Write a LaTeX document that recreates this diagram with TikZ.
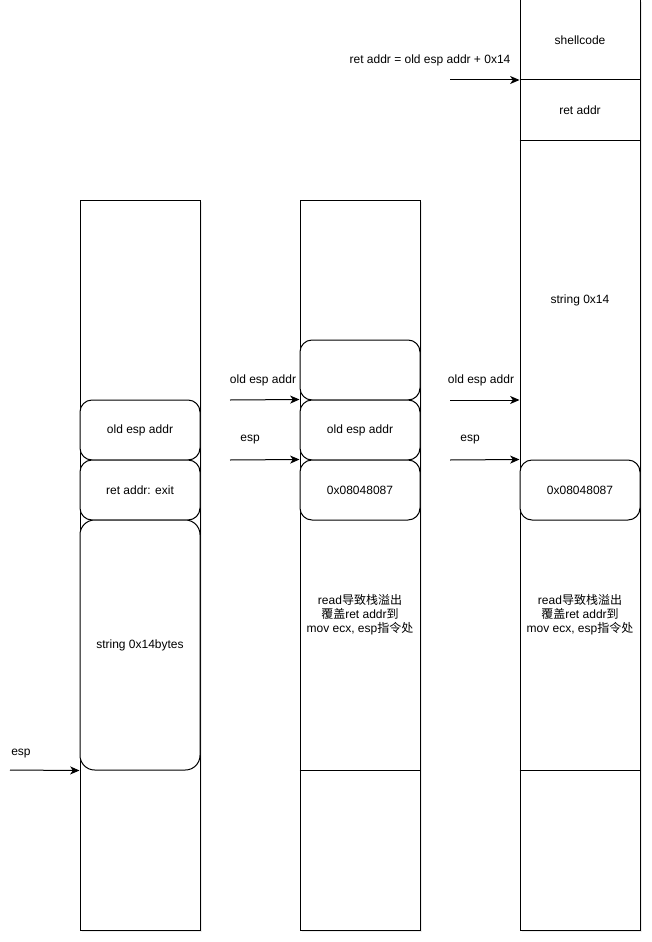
\documentclass[tikz,border=0pt]{standalone}
\usepackage{fontspec}
\setmainfont{Liberation Sans}
\newfontfamily\cjk{Noto Sans CJK SC}
\usetikzlibrary{positioning,arrows.meta,shadows}
\tikzset{
  stack/.style={draw, line width=0.75pt, fill=white, minimum width=90pt,
    drop shadow={shadow xshift=1.2pt, shadow yshift=-1.2pt, opacity=0.15}},
  cell/.style={draw, line width=0.75pt, fill=white, rounded corners=9pt,
    minimum width=90pt, minimum height=45pt},
  lbl/.style={inner sep=1pt},
  ptr/.style={-{Stealth[length=7pt,width=6pt,inset=2pt]}, line width=0.75pt}
}
\begin{document}
\begin{tikzpicture}[x=0.75pt, y=-0.75pt, font=\fontsize{9}{10.5}\selectfont]
  \useasboundingbox (0,0) rectangle (652,942);
  % three stack snapshots
  \node[stack, minimum height=547.5pt] (stackA) at (140,565) {};
  \node[stack, minimum height=547.5pt] (stackB) at (360,565) {};
  \node[stack, minimum height=697.5pt] (stackC) at (580,465) {};

  % first stack
  \node[cell] (oldA) at (140,430) {old esp addr};
  \node[cell] (retA) at (140,490) {ret addr: exit};
  \node[cell, rounded corners=11pt, minimum height=187.5pt] (strA) at (140,645) {string 0x14bytes};
  \coordinate (espA) at (10,770);
  \node[lbl] (espAlbl) at (21,754) {esp};
  \draw[ptr] (espA) -- (strA.south west);

  % second stack
  \node[cell] (topB) at (360,370) {};
  \node[cell] (oldB) at (360,430) {old esp addr};
  \node[cell] (jmpB) at (360,490) {0x08048087};
  \draw[line width=0.75pt] (stackB.west |- 0,770) -- (stackB.east |- 0,770);
  \node[align=center] (readB) at (360,615) {read{\cjk 导致栈溢出}\\{\cjk 覆盖}ret addr{\cjk 到}\\mov ecx, esp{\cjk 指令处}};
  \coordinate (oldBsrc) at (230,400);
  \coordinate (espBsrc) at (230,460);
  \node[lbl] (oldBlbl) at (263,380) {old esp addr};
  \node[lbl] (espBlbl) at (250,440) {esp};
  \draw[ptr] (oldBsrc) -- (oldB.north west);
  \draw[ptr] (espBsrc) -- (jmpB.north west);

  % third stack
  \draw[line width=0.75pt] (stackC.west |- 0,80) -- (stackC.east |- 0,80);
  \draw[line width=0.75pt] (stackC.west |- 0,140) -- (stackC.east |- 0,140);
  \node (shellC) at (580,40) {shellcode};
  \node (retC) at (580,110) {ret addr};
  \node (strC) at (580,300) {string 0x14};
  \node[cell] (jmpC) at (580,490) {0x08048087};
  \draw[line width=0.75pt] (stackC.west |- 0,770) -- (stackC.east |- 0,770);
  \node[align=center] (readC) at (580,615) {read{\cjk 导致栈溢出}\\{\cjk 覆盖}ret addr{\cjk 到}\\mov ecx, esp{\cjk 指令处}};
  \coordinate (retCsrc) at (450,80);
  \coordinate (oldCsrc) at (450,400);
  \coordinate (espCsrc) at (450,460);
  \coordinate (oldCdst) at (stackC.west |- 0,400);
  \node[lbl] (retClbl) at (430,60) {ret addr = old esp addr + 0x14};
  \node[lbl] (oldClbl) at (481,380) {old esp addr};
  \node[lbl] (espClbl) at (470,440) {esp};
  \draw[ptr] (retCsrc) -- (stackC.west |- 0,80);
  \draw[ptr] (oldCsrc) -- (oldCdst);
  \draw[ptr] (espCsrc) -- (jmpC.north west);
\end{tikzpicture}
\end{document}
